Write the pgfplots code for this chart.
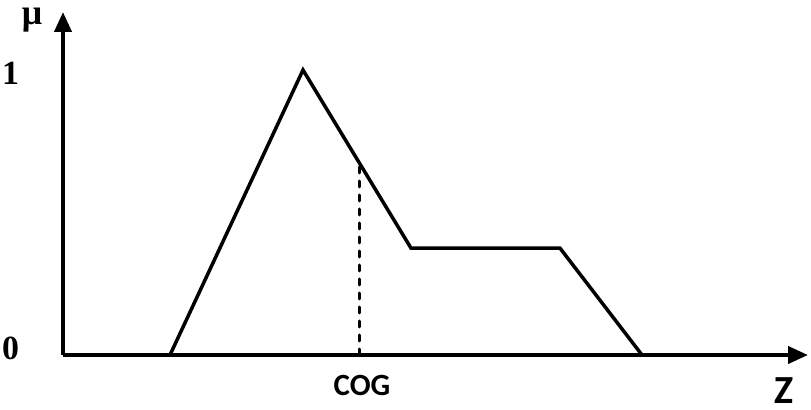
\documentclass[border=0pt]{standalone}
\usepackage{pgfplots}
\pgfplotsset{compat=1.18}
\usepackage{fontspec}
\setmainfont{Liberation Serif}
\newfontfamily\carlito{Carlito}
\usetikzlibrary{arrows.meta}
\begin{document}
\begin{tikzpicture}
\begin{axis}[
  width=811bp, height=410bp, scale only axis,
  xmin=0, xmax=811, ymin=-0.19298, ymax=1.24561,
  hide axis, clip=false,
]
% axes
\addplot[line width=4bp, -{Triangle[length=20bp,width=17bp]}] coordinates {(63,0) (808,0)};
\addplot[line width=4bp, -{Triangle[length=20bp,width=17bp]}] coordinates {(63,0) (63,1.2035)};
% membership function
\addplot[line width=3.5bp, line join=miter] coordinates {(170,0) (303,1) (411,0.375) (560,0.375) (642,0)};
% COG line
\addplot[line width=3bp, line cap=round, dash pattern=on 6bp off 8bp] coordinates {(359,0) (359,0.675)};
\node[inner sep=0pt, anchor=base, font=\fontsize{36}{36}\selectfont\bfseries] at (axis cs:32,1.158) {μ};
\node[inner sep=0pt, anchor=base, font=\fontsize{34}{34}\selectfont\bfseries] at (axis cs:10.5,0.95) {1};
\node[inner sep=0pt, anchor=base, font=\fontsize{34}{34}\selectfont\bfseries] at (axis cs:10.5,-0.0175) {0};
\node[inner sep=0pt, anchor=base, font=\carlito\fontsize{31}{31}\selectfont\bfseries] at (axis cs:362,-0.1404) {COG};
\node[inner sep=0pt, anchor=base, font=\carlito\fontsize{40}{40}\selectfont\bfseries] at (axis cs:784,-0.1719) {Z};
\path (rel axis cs:0,0) (rel axis cs:1,1);
\end{axis}
\end{tikzpicture}
\end{document}
